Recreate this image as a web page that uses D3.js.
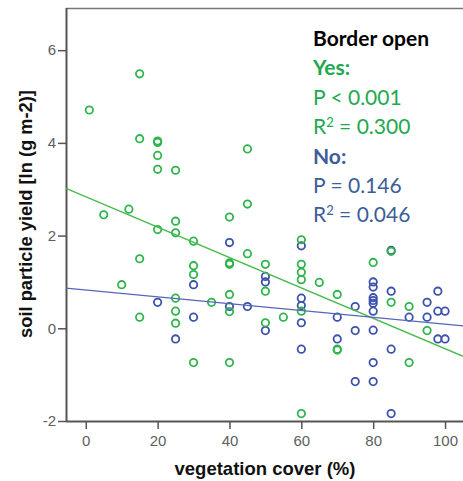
<!DOCTYPE html>
<html>
<head>
<meta charset="utf-8">
<script src="https://cdn.jsdelivr.net/npm/d3@7/dist/d3.min.js"></script>
<style>
  html, body { margin: 0; padding: 0; background: #fff; }
  svg { display: block; }
</style>
</head>
<body>
<svg id="chart" width="463" height="481"></svg>
<script>
// Border open = yes
const yesCover = [1, 5, 10, 12, 15, 15, 15, 15, 20, 20, 20, 20, 20, 25, 25, 25, 25, 25, 25,
  30, 30, 30, 30, 35, 40, 40, 40, 40, 40, 40, 45, 45, 45, 50, 50, 50, 55,
  60, 60, 60, 60, 60, 60, 65, 70, 70, 70, 80, 85, 85, 90, 90, 95];
const yesYield = [4.71, 2.45, 0.94, 2.57, 5.49, 4.09, 1.50, 0.24, 4.04, 4.01, 3.73, 3.43, 2.13,
  3.41, 2.31, 2.06, 0.65, 0.37, 0.11, 1.88, 1.35, 1.16, -0.74, 0.56, 2.40, 1.41, 1.38, 0.73,
  0.36, -0.74, 3.87, 2.68, 1.61, 1.38, 0.80, 0.12, 0.24, 1.91, 1.38, 1.21, 1.05, 0.37, -1.84,
  0.99, 0.73, -0.45, -0.47, 1.42, 1.66, 0.56, 0.47, -0.74, -0.05];

// Border open = no
const noCover = [20, 25, 30, 30, 40, 40, 45, 50, 50, 50, 60, 60, 60, 60, 60, 70, 70,
  75, 75, 75, 80, 80, 80, 80, 80, 80, 80, 80, 80, 85, 85, 85, 85, 90, 95, 95,
  98, 98, 98, 100, 100];
const noYield = [0.56, -0.23, 0.94, 0.24, 1.85, 0.47, 0.47, 1.12, 1.00, -0.05, 1.78, 0.65,
  0.49, 0.12, -0.45, 0.24, -0.23, 0.47, -0.05, -1.15, 1.00, 0.89, 0.66, 0.60, 0.54, 0.37,
  -0.04, -0.74, -1.15, 1.68, 0.80, -0.45, -1.84, 0.24, 0.56, 0.24, 0.80, 0.37, -0.23,
  0.37, -0.23];

// Fitted lines: [intercept, slope]
const yesFit = [2.84, -0.0328];
const noFit = [0.828, -0.0074];

const xTicks = [0, 20, 40, 60, 80, 100];
const yTicks = [-2, 0, 2, 4, 6];

const legendTitle = "Border open";
const legendYes = ["Yes:", "P < 0.001", "R² = 0.300"];
const legendNo = ["No:", "P = 0.146", "R² = 0.046"];

const green = "#2fb54c";
const greenLine = "#46bb4a";
const greenText = "#22a84f";
const blue = "#3b51ad";
const blueLine = "#5566ba";
const blueText = "#3c5d98";
const axisCol = "#555";
const tickText = "#5e5e5e";

const svg = d3.select("#chart");
const plotL = 66, plotR = 463, plotT = 8, plotB = 421;

const x = d3.scaleLinear().domain([-5.5, 105]).range([plotL, plotR]);
const y = d3.scaleLinear().domain([-2, 6.91]).range([plotB, plotT]);

// frame top line
svg.append("line")
  .attr("x1", plotL).attr("x2", plotR)
  .attr("y1", plotT + 0.5).attr("y2", plotT + 0.5)
  .attr("stroke", "#777").attr("stroke-width", 1.5);

const plain = d => String(d);
const xAxis = svg.append("g")
  .attr("transform", `translate(0,${plotB})`)
  .call(d3.axisBottom(x).tickValues(xTicks).tickFormat(plain)
    .tickSize(8).tickPadding(6).tickSizeOuter(0));
const yAxis = svg.append("g")
  .attr("transform", `translate(${plotL},0)`)
  .call(d3.axisLeft(y).tickValues(yTicks).tickFormat(plain)
    .tickSize(8).tickPadding(2).tickSizeOuter(0));

[xAxis, yAxis].forEach(g => {
  g.select(".domain").attr("stroke", axisCol).attr("stroke-width", 2);
  g.selectAll(".tick line").attr("stroke", axisCol).attr("stroke-width", 1.5);
  g.selectAll(".tick text")
    .attr("fill", tickText)
    .style("font-family", "'Liberation Sans', Arial, sans-serif")
    .style("font-size", "15px");
});
yAxis.select(".domain").attr("d", `M0.5,${plotB}V${plotT}`);
xAxis.select(".domain").attr("d", `M${plotL},0.5H${plotR}`);

// points
function drawPoints(cover, yld, col) {
  svg.append("g").selectAll("circle")
    .data(d3.range(cover.length))
    .join("circle")
    .attr("cx", i => x(cover[i]))
    .attr("cy", i => y(yld[i]))
    .attr("r", 3.7)
    .attr("fill", "none")
    .attr("stroke", col)
    .attr("stroke-width", 1.8);
}
drawPoints(noCover, noYield, blue);
drawPoints(yesCover, yesYield, green);

// fitted lines
function drawFit(fit, col) {
  const [a, b] = fit;
  const xs = x.domain();
  svg.append("line")
    .attr("x1", x(xs[0])).attr("y1", y(a + b * xs[0]))
    .attr("x2", x(xs[1])).attr("y2", y(a + b * xs[1]))
    .attr("stroke", col).attr("stroke-width", 1.3);
}
drawFit(yesFit, greenLine);
drawFit(noFit, blueLine);

// axis titles
svg.append("text")
  .attr("x", 265).attr("y", 475)
  .attr("text-anchor", "middle")
  .style("font-family", "'Liberation Sans', Arial, sans-serif")
  .style("font-weight", "bold").style("font-size", "18.5px")
  .attr("fill", "#111")
  .text("vegetation cover (%)");
svg.append("text")
  .attr("transform", "translate(32,214) rotate(-90)")
  .attr("text-anchor", "middle")
  .style("font-family", "'Liberation Sans', Arial, sans-serif")
  .style("font-weight", "bold").style("font-size", "18.3px")
  .attr("fill", "#111")
  .text("soil particle yield [ln (g m-2)]");

// statistics block
const lg = svg.append("g")
  .style("font-family", "Lato, 'Open Sans', sans-serif")
  .style("font-size", "21px");
const lx = 313, ly0 = 46, dy = 29.4;
lg.append("text").attr("x", lx).attr("y", ly0)
  .attr("fill", "#000").style("font-weight", "bold").text(legendTitle);
function stat(lines, col, start) {
  lines.forEach((t, i) => {
    const el = lg.append("text").attr("x", lx).attr("y", ly0 + dy * (start + i))
      .attr("fill", col);
    if (i === 0) el.style("font-weight", "bold");
    if (t.startsWith("R²")) {
      el.append("tspan").text("R");
      el.append("tspan").attr("dy", -7).style("font-size", "13px").text("2");
      el.append("tspan").attr("dy", 7).text(t.slice(2));
    } else {
      el.text(t);
    }
  });
}
stat(legendYes, greenText, 1);
stat(legendNo, blueText, 4);
</script>
</body>
</html>
